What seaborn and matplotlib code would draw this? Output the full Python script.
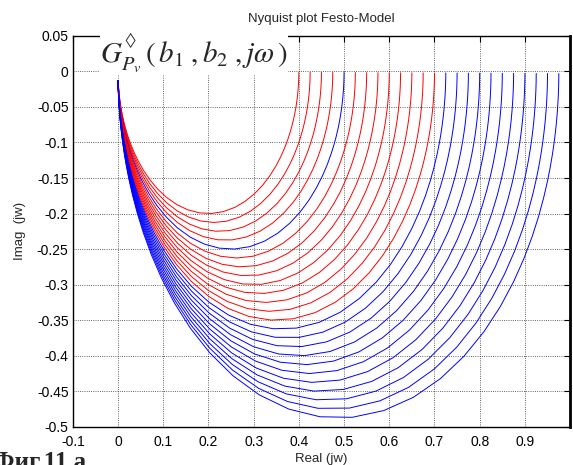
import numpy as np
import pandas as pd
import matplotlib
matplotlib.use("Agg")
import matplotlib.pyplot as plt
import seaborn as sns

# Static gains (real-axis crossing at w=0) of each Nyquist curve
gains = [0.400, 0.425, 0.450, 0.475, 0.500, 0.525, 0.550, 0.575, 0.600, 0.625,
         0.650, 0.675, 0.700, 0.725, 0.750, 0.775, 0.800, 0.825, 0.850, 0.875,
         0.900, 0.925, 0.950, 0.975]
colors = ["red", "red", "red", "red", "blue", "red", "red", "red", "red", "red",
          "red", "red", "red", "blue", "blue", "blue", "blue", "blue", "blue", "blue",
          "blue", "blue", "blue", "blue"]
end_imag = -0.013   # imaginary part where the high-frequency end stops

xticks = [-0.1, 0, 0.1, 0.2, 0.3, 0.4, 0.5, 0.6, 0.7, 0.8, 0.9]
xticklabels = ["-0.1", "0", "0.1", "0.2", "0.3", "0.4", "0.5", "0.6", "0.7", "0.8", "0.9"]
yticks = [0.05, 0, -0.05, -0.1, -0.15, -0.2, -0.25, -0.3, -0.35, -0.4, -0.45, -0.5]
yticklabels = ["0.05", "0", "-0.05", "-0.1", "-0.15", "-0.2", "-0.25", "-0.3",
               "-0.35", "-0.4", "-0.45", "-0.5"]

# Evaluate G(jw) = K / (1 + jwT) for each gain
rows = []
for i, K in enumerate(gains):
    u = np.logspace(-2.5, np.log10(K / -end_imag), 70)
    G = K / (1 + 1j * u)
    for re, im in zip(G.real, G.imag):
        rows.append({"re": re, "im": im, "curve": i})
df = pd.DataFrame(rows)
palette = {i: c for i, c in enumerate(colors)}

sns.set_style("white")
plt.rcParams["font.family"] = ["Liberation Sans", "DejaVu Sans"]
plt.rcParams["mathtext.fontset"] = "stix"

fig = plt.figure(figsize=(5.73, 4.65), dpi=100)
ax = fig.add_axes([0.127, 0.082, 0.868, 0.841])

sns.lineplot(data=df, x="re", y="im", hue="curve", palette=palette, sort=False,
             estimator=None, legend=False, linewidth=0.7, ax=ax)

ax.set_xlim(-0.1, 1.0)
ax.set_ylim(-0.5, 0.05)
ax.set_xticks(xticks)
ax.set_xticklabels(xticklabels, fontsize=10)
ax.set_yticks(yticks)
ax.set_yticklabels(yticklabels, fontsize=10)
ax.tick_params(direction="in", length=4, width=0.8, top=True, right=True,
               colors="black")
ax.tick_params(axis="x", pad=6)
ax.tick_params(axis="y", pad=3)
ax.grid(True, color="black", linestyle=":", linewidth=0.6, alpha=0.8)
for s in ax.spines.values():
    s.set_color("black")
    s.set_linewidth(1.0)
ax.spines["right"].set_linewidth(2.0)

ax.set_title("Nyquist plot Festo-Model", fontsize=9.5, pad=10)
ax.set_xlabel("Real (jw)", fontsize=9.5, labelpad=3)
ax.set_ylabel("Imag  (jw)", fontsize=9.5, labelpad=8)

ax.text(0.168, 0.026,
        "$G^{{}^{\u25ca}}_{P_v}\\,\\left(\\,b_1\\;,b_2\\;,j\\omega\\,\\right)$",
        fontsize=21, ha="center", va="center", transform=ax.transData,
        bbox=dict(facecolor="white", edgecolor="none", pad=0.5), zorder=10,
        clip_on=False)

fig.text(-0.012, 0.030, "Фиг.11 а", fontsize=18, fontweight="bold",
         family=["Liberation Serif", "DejaVu Serif"], ha="left", va="top")

fig.savefig("out.png", dpi=100)
